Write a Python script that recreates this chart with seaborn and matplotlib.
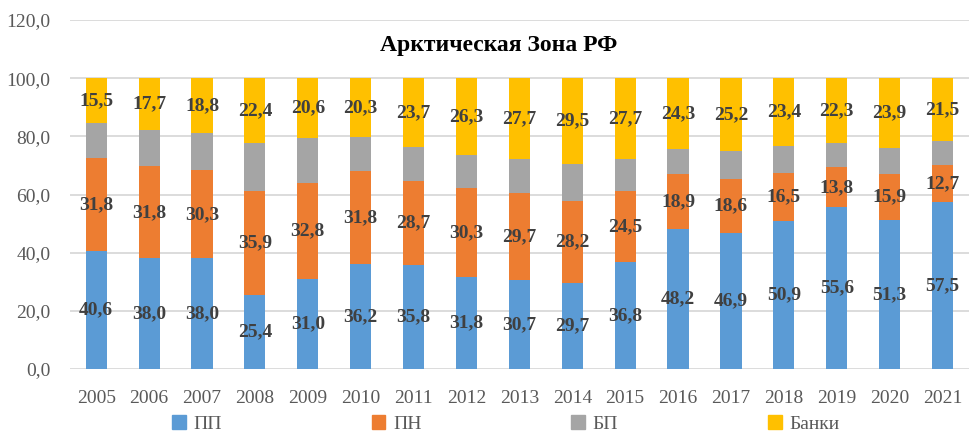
import numpy as np
import seaborn as sns
from matplotlib import pyplot as plt
from matplotlib.patches import Patch

years = [str(y) for y in range(2005, 2022)]
pp = [40.6, 38.0, 38.0, 25.4, 31.0, 36.2, 35.8, 31.8, 30.7, 29.7, 36.8,
      48.2, 46.9, 50.9, 55.6, 51.3, 57.5]
pn = [31.8, 31.8, 30.3, 35.9, 32.8, 31.8, 28.7, 30.3, 29.7, 28.2, 24.5,
      18.9, 18.6, 16.5, 13.8, 15.9, 12.7]
bp = [12.1, 12.5, 12.9, 16.3, 15.6, 11.7, 11.8, 11.6, 11.9, 12.6, 11.0,
      8.6, 9.3, 9.2, 8.3, 8.9, 8.3]
banks = [15.5, 17.7, 18.8, 22.4, 20.6, 20.3, 23.7, 26.3, 27.7, 29.5, 27.7,
         24.3, 25.2, 23.4, 22.3, 23.9, 21.5]

series = [("ПП", pp, "#5B9BD5", True),
          ("ПН", pn, "#ED7D31", True),
          ("БП", bp, "#A5A5A5", False),
          ("Банки", banks, "#FFC000", True)]

sns.set_style("white")
plt.rcParams['font.family'] = ['Liberation Serif', 'DejaVu Serif']

fig = plt.figure(figsize=(9.69, 4.37), dpi=100)
ax = fig.add_axes([0.072, 0.1556, 0.928, 0.7986])

bottom = np.zeros(len(years))
for name, vals, color, labelled in series:
    sns.barplot(x=years, y=vals, bottom=bottom, color=color, width=0.4,
                ax=ax, zorder=3, linewidth=0, saturation=1)
    if labelled:
        ax.bar_label(ax.containers[-1], label_type="center",
                     labels=[f"{v:.1f}".replace(".", ",") for v in vals],
                     fontsize=14, fontweight="bold", color="#404040")
    bottom = bottom + np.array(vals)

ax.set_ylim(0, 120)
ax.set_xlim(-0.5, len(years) - 0.5)
ax.set_yticks(np.arange(0, 121, 20))
ax.set_yticklabels([f"{v:.1f}".replace(".", ",") for v in np.arange(0, 121, 20)])
ax.tick_params(axis="both", labelsize=14, colors="#595959", length=0)
ax.tick_params(axis="x", pad=15)
ax.tick_params(axis="y", pad=14)
ax.grid(axis="y", color="#D9D9D9", linewidth=1.3, zorder=0)
ax.set_axisbelow(True)
sns.despine(ax=ax, left=True, top=True, right=True, bottom=True)

ax.text(0.477, 0.928, "Арктическая Зона РФ", transform=ax.transAxes,
        ha="center", va="center", fontsize=17, fontweight="bold", color="black")

handles = [Patch(color=c, label=n) for n, _, c, _ in series]
fig.legend(handles=handles, loc="lower center", ncol=4, frameon=False,
           bbox_to_anchor=(0.522, -0.03), fontsize=14, handlelength=0.7,
           handleheight=0.7, handletextpad=0.4, columnspacing=7.7,
           labelcolor="#595959")

fig.savefig("out.png", dpi=100)
